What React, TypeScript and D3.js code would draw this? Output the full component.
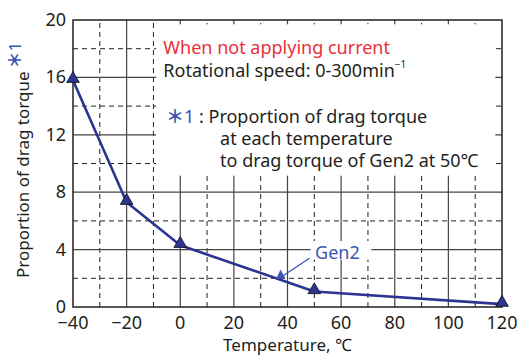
import { scaleLinear, line, curveLinear, symbol, symbolTriangle, range } from 'd3';

const temps = [-40, -20, 0, 50, 120];
const dragRatio = [15.8, 7.3, 4.3, 1.08, 0.2];
const xTicks = [-40, -20, 0, 20, 40, 60, 80, 100, 120];
const yTicks = [0, 4, 8, 12, 16, 20];

const W = 521;
const H = 359;
const m = { left: 73, right: 19, top: 20, bottom: 52 };
const FONT = '"Noto Sans", "Liberation Sans", Arial, "Noto Sans CJK JP", sans-serif';
const NAVY = '#2b3590';
const BLUE = '#3b55b0';
const INK = '#231f20';

export default function App() {
  const x = scaleLinear().domain([-40, 120]).range([m.left, W - m.right]);
  const y = scaleLinear().domain([0, 20]).range([H - m.bottom, m.top]);
  const pts = temps.map((t, i) => [x(t), y(dragRatio[i])] as [number, number]);
  const path = line().curve(curveLinear)(pts) || '';
  const tri = symbol(symbolTriangle, 70)() || '';

  const majorX = range(-20, 120, 20);
  const minorX = range(-30, 120, 20);
  const majorY = range(4, 20, 4);
  const minorY = range(2, 20, 4);

  // white panel behind the annotation text
  const box = { x0: x(-9), x1: x(117.5), y0: y(19.7), y1: y(9.15) };

  return (
    <svg width={W} height={H} style={{ position: 'absolute', left: 0, top: 0, background: '#fff' }} fontFamily={FONT}>
      {/* grid */}
      {minorX.map((v) => (
        <line key={'mx' + v} x1={x(v)} x2={x(v)} y1={y(0)} y2={y(20)} stroke="#222" strokeWidth={1} strokeDasharray="5 4" />
      ))}
      {minorY.map((v) => (
        <line key={'my' + v} x1={x(-40)} x2={x(120)} y1={y(v)} y2={y(v)} stroke="#222" strokeWidth={1} strokeDasharray="5 4" />
      ))}
      {majorX.map((v) => (
        <line key={'Mx' + v} x1={x(v)} x2={x(v)} y1={y(0)} y2={y(20)} stroke="#444" strokeWidth={1.2} />
      ))}
      {majorY.map((v) => (
        <line key={'My' + v} x1={x(-40)} x2={x(120)} y1={y(v)} y2={y(v)} stroke="#444" strokeWidth={1.2} />
      ))}
      <rect x={box.x0} y={box.y0} width={box.x1 - box.x0} height={box.y1 - box.y0} fill="#fff" />
      <rect x={x(-40)} y={y(20)} width={x(120) - x(-40)} height={y(0) - y(20)} fill="none" stroke={INK} strokeWidth={1.5} />

      {/* tick labels */}
      {xTicks.map((v) => (
        <text key={'xt' + v} x={x(v)} y={y(0) + 22} textAnchor="middle" fontSize={18} fill={INK}>
          {v < 0 ? '\u2212' + Math.abs(v) : v}
        </text>
      ))}
      {yTicks.map((v) => (
        <text key={'yt' + v} x={x(-40) - 7} y={y(v) + 6} textAnchor="end" fontSize={18} fill={INK}>
          {v}
        </text>
      ))}

      {/* axis titles */}
      <text x={(x(-40) + x(120)) / 2} y={351} textAnchor="middle" fontSize={17} fill={INK}>
        Temperature, ℃
      </text>
      <text transform="rotate(-90)" x={-278} y={29} fontSize={17} fill={INK}>
        Proportion of drag torque
        <tspan fill={BLUE} dx={3} dy={-8} fontSize={17} fontWeight="bold">＊</tspan>
        <tspan fill={BLUE} fontSize={17}>1</tspan>
      </text>

      {/* annotation */}
      <text x={x(-6.3)} y={y(17.6)} fontSize={18} fill="#e8303a">When not applying current</text>
      <text x={x(-6.3)} y={y(16.05)} fontSize={18} fill={INK}>
        Rotational speed: 0-300min
        <tspan fontSize={10} dy={-9}>−1</tspan>
      </text>
      <text x={x(-5.3)} y={y(12.84)} fontSize={18} fill={INK}>
        <tspan fill={BLUE} fontWeight="bold">＊</tspan>
        <tspan fill={BLUE}>1</tspan>
        <tspan> : Proportion of drag torque</tspan>
      </text>
      <text x={x(14.85)} y={y(11.29)} fontSize={18} fill={INK}>at each temperature</text>
      <text x={x(14.85)} y={y(9.78)} fontSize={18} fill={INK}>to drag torque of Gen2 at 50℃</text>

      {/* series */}
      <path d={path} fill="none" stroke={NAVY} strokeWidth={2.6} strokeLinejoin="round" />
      {pts.map(([px, py], i) => (
        <path key={'pt' + i} d={tri} transform={`translate(${px},${py - 1.5})`} fill={NAVY} stroke="#111" strokeWidth={0.8} />
      ))}

      {/* Gen2 label with arrow */}
      <rect x={x(48.6)} y={y(4.6)} width={x(71.3) - x(48.6)} height={y(3.3) - y(4.6)} fill="#fff" />
      <text x={x(50.3)} y={y(3.35)} fontSize={18} fill={BLUE}>Gen2</text>
      <line x1={x(48.2)} y1={y(3.4)} x2={x(38.5)} y2={y(2.2)} stroke={BLUE} strokeWidth={1.3} />
      <path
        d={`M${x(35.8)},${y(1.96)} L${x(37.4)},${y(2.62)} L${x(39.2)},${y(2.0)} Z`}
        fill={BLUE}
      />
    </svg>
  );
}
